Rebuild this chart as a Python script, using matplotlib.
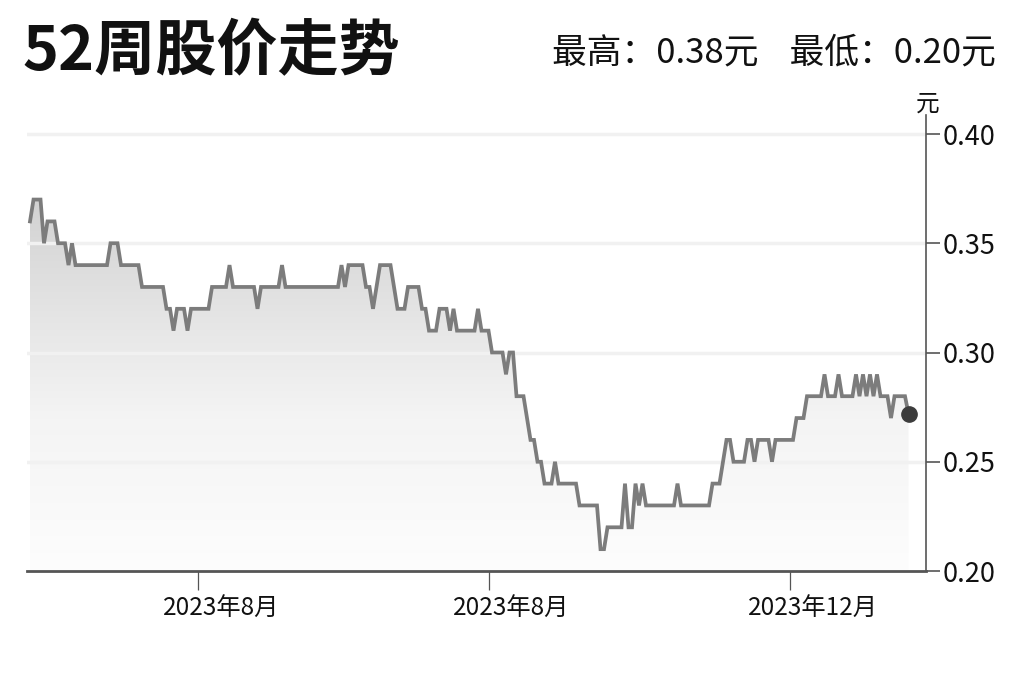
import numpy as np
import matplotlib.pyplot as plt
from matplotlib.colors import LinearSegmentedColormap
from matplotlib.transforms import ScaledTranslation

plt.rcParams['font.family'] = ['Noto Sans CJK SC', 'DejaVu Sans']

run_price = [0.36, 0.37, 0.35, 0.36, 0.35, 0.34, 0.35, 0.34, 0.35, 0.34,
             0.33, 0.32, 0.31, 0.32, 0.31, 0.32, 0.33, 0.34, 0.33, 0.32,
             0.33, 0.34, 0.33, 0.34, 0.33, 0.34, 0.33, 0.32, 0.33, 0.34,
             0.33, 0.32, 0.33, 0.32, 0.31, 0.32, 0.31, 0.32, 0.31, 0.32,
             0.31, 0.30, 0.29, 0.30, 0.28, 0.27, 0.26, 0.25, 0.24, 0.25,
             0.24, 0.23, 0.21, 0.22, 0.24, 0.22, 0.24, 0.23, 0.24, 0.23,
             0.24, 0.23, 0.24, 0.25, 0.26, 0.25, 0.26, 0.25, 0.26, 0.25,
             0.26, 0.27, 0.28, 0.29, 0.28, 0.29, 0.28,
             0.29, 0.28, 0.29, 0.28, 0.29, 0.28, 0.29,
             0.28, 0.27, 0.28, 0.272]
run_days = [1, 3, 1, 3, 3, 1, 1, 10, 3, 6,
            7, 2, 1, 3, 1, 6, 5, 1, 7, 1,
            6, 1, 16, 1, 1, 5, 2, 1, 1, 4,
            1, 3, 4, 2, 3, 3, 1, 1, 6, 1,
            3, 4, 1, 2, 3, 1, 2, 2, 3, 1,
            6, 6, 2, 5, 1, 2, 1, 1, 1, 9,
            1, 9, 3, 1, 2, 4, 2, 1, 4, 1,
            6, 3, 5, 1, 3, 1, 4,
            1, 1, 1, 1, 1, 1, 1,
            3, 1, 4, 1]

tick_days = [48, 131, 217]
tick_labels = ["2023年8月", "2023年8月", "2023年12月"]
y_ticks = [0.20, 0.25, 0.30, 0.35, 0.40]

price = np.repeat(run_price, run_days)
day = np.arange(len(price))

fig = plt.figure(figsize=(10.24, 6.82), dpi=100)
ax = fig.add_axes([27 / 1024, 111 / 682, 899 / 1024, 456 / 682])

x0, x1 = -0.86, 256
y0, y1 = 0.20, 0.4087
ax.set_xlim(x0, x1)
ax.set_ylim(y0, y1)

# gradient fill under the line
cmap = LinearSegmentedColormap.from_list(
    "fade", [(0.0, "#fdfdfd"), (0.41, "#f4f4f4"), (0.65, "#e7e7e7"), (1.0, "#d2d2d2")])
grad = np.linspace(0, 1, 256).reshape(-1, 1)
poly = ax.fill_between(day, price, y0, color="none", lw=0)
img = ax.imshow(grad, cmap=cmap, aspect="auto", origin="lower",
                extent=[x0, x1, y0, 0.37], zorder=1)
img.set_clip_path(poly.get_paths()[0], transform=ax.transData)

for v in y_ticks[1:]:
    ax.axhline(v, color="#f1f1f1", lw=2.5, zorder=2)

ax.plot(day, price, color="#7c7c7c", lw=2.7, zorder=3, solid_joinstyle="miter")
ax.plot(day[-1], price[-1], "o", color="#3c3c3c", ms=11, zorder=4)

ax.spines["left"].set_visible(False)
ax.spines["top"].set_visible(False)
ax.spines["right"].set_color("#555555")
ax.spines["right"].set_linewidth(1.2)
ax.spines["bottom"].set_color("#555555")
ax.spines["bottom"].set_linewidth(2)

ax.yaxis.tick_right()
ax.set_yticks(y_ticks)
ax.set_yticklabels([f"{v:.2f}" for v in y_ticks])
ax.tick_params(axis="y", direction="out", length=10, width=1.2, color="#555555",
               labelsize=19.5, labelcolor="#111111", pad=2)
ax.set_xticks(tick_days)
ax.set_xticklabels(tick_labels)
ax.tick_params(axis="x", direction="out", length=14, width=0.9, color="#555555",
               labelsize=17.5, labelcolor="#111111", pad=4)
# labels sit a little right of their ticks in the original
shift = ScaledTranslation(0.23, 0, fig.dpi_scale_trans)
for lab in ax.get_xticklabels():
    lab.set_transform(lab.get_transform() + shift)

fig.text(928 / 1024, 0.848, "元", fontsize=17, ha="center", va="center", color="#111111")
fig.text(22 / 1024, 0.923, "52周股价走势", fontsize=44, fontweight="bold",
         ha="left", va="center", color="#111111")
fig.text(996 / 1024, 0.923, "最高：0.38元    最低：0.20元", fontsize=25,
         ha="right", va="center", color="#111111")

fig.savefig("out.png", dpi=100, facecolor="white")
